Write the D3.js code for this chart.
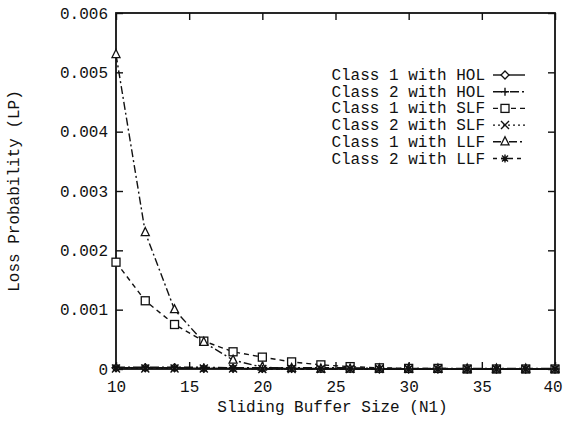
<!DOCTYPE html>
<html><head><meta charset="utf-8">
<script src="https://cdn.jsdelivr.net/npm/d3@7"></script>
<style>body{margin:0;background:#fff}text{font-family:"Liberation Mono","Courier New",monospace;fill:#111}</style>
</head><body><svg id="c" width="563" height="421"></svg>
<script>
const xs = [10,12,14,16,18,20,22,24,26,28,30,32,34,36,38,40];
const class1HOL = [0.00002,0.00002,0.00002,0.00001,0.00001,0.00001,0.00001,0.00001,0.00001,0,0,0,0,0,0,0];
const class2HOL = [0.00003,0.00003,0.00003,0.00003,0.00002,0.00002,0.00002,0.00002,0.00002,0.00001,0.00001,0.00001,0.00001,0.00001,0.00001,0.00001];
const class1SLF = [0.0018,0.00115,0.00075,0.00047,0.00029,0.0002,0.00012,0.00007,0.00004,0.00002,0.00001,0.00001,0,0,0,0];
const class2SLF = [0.00001,0.00001,0.00001,0.00001,0.00001,0,0,0,0,0,0,0,0,0,0,0];
const class1LLF = [0.0053,0.0023,0.001,0.00045,0.00015,0.00003,0.00001,0,0,0,0,0,0,0,0,0];
const class2LLF = [0.00002,0.00002,0.00002,0.00001,0.00001,0,0,0,0,0,0,0,0,0,0,0];
const seriesNames = ["Class 1 with HOL","Class 2 with HOL","Class 1 with SLF","Class 2 with SLF","Class 1 with LLF","Class 2 with LLF"];
const xTicks = [10,15,20,25,30,35,40];
const yTicks = [0,0.001,0.002,0.003,0.004,0.005,0.006];
const yTickLabels = ["0","0.001","0.002","0.003","0.004","0.005","0.006"];

const series = [
 {name:seriesNames[0], v:class1HOL, dash:null, mk:"diamond"},
 {name:seriesNames[1], v:class2HOL, dash:"9,3,2,3", mk:"plus"},
 {name:seriesNames[2], v:class1SLF, dash:"5,4", mk:"square"},
 {name:seriesNames[3], v:class2SLF, dash:"2,3", mk:"x"},
 {name:seriesNames[4], v:class1LLF, dash:"8,3,2,3", mk:"tri"},
 {name:seriesNames[5], v:class2LLF, dash:"4,4", mk:"star"}
];

const svg = d3.select("#c");
const L=116,R=555,T=13,B=369;
const FS=16;
const x = d3.scaleLinear().domain([10,40]).range([L,R]);
const y = d3.scaleLinear().domain([0,0.006]).range([B,T]);

function marker(g, type, cx, cy){
  const s=4;
  if(type==="diamond") g.append("path").attr("d",`M${cx},${cy-s}L${cx+s},${cy}L${cx},${cy+s}L${cx-s},${cy}Z`).attr("fill","#fff").attr("stroke","#111").attr("stroke-width",1.3);
  else if(type==="plus") g.append("path").attr("d",`M${cx-s},${cy}H${cx+s}M${cx},${cy-s}V${cy+s}`).attr("stroke","#111").attr("stroke-width",1.4);
  else if(type==="square") g.append("rect").attr("x",cx-s).attr("y",cy-s).attr("width",2*s).attr("height",2*s).attr("fill","#fff").attr("stroke","#111").attr("stroke-width",1.3);
  else if(type==="x") g.append("path").attr("d",`M${cx-s},${cy-s}L${cx+s},${cy+s}M${cx-s},${cy+s}L${cx+s},${cy-s}`).attr("stroke","#111").attr("stroke-width",1.4);
  else if(type==="tri") g.append("path").attr("d",`M${cx},${cy-s-1}L${cx+s},${cy+s-1}L${cx-s},${cy+s-1}Z`).attr("fill","#fff").attr("stroke","#111").attr("stroke-width",1.3);
  else if(type==="star") g.append("path").attr("d",`M${cx-s},${cy}H${cx+s}M${cx},${cy-s}V${cy+s}M${cx-s*0.75},${cy-s*0.75}L${cx+s*0.75},${cy+s*0.75}M${cx-s*0.75},${cy+s*0.75}L${cx+s*0.75},${cy-s*0.75}`).attr("stroke","#111").attr("stroke-width",1.4);
}

svg.append("rect").attr("x",L).attr("y",T).attr("width",R-L).attr("height",B-T).attr("fill","none").attr("stroke","#111").attr("stroke-width",1.8);

const xa = svg.append("g").attr("transform",`translate(0,${B})`).call(d3.axisBottom(x).tickValues(xTicks).tickSize(-7).tickPadding(12).tickFormat(d3.format("d")));
const xt = svg.append("g").attr("transform",`translate(0,${T})`).call(d3.axisTop(x).tickValues(xTicks).tickSize(-7).tickFormat(""));
const ya = svg.append("g").attr("transform",`translate(${L},0)`).call(d3.axisLeft(y).tickValues(yTicks).tickSize(-7).tickPadding(8).tickFormat((d,i)=>yTickLabels[i]));
const yr = svg.append("g").attr("transform",`translate(${R},0)`).call(d3.axisRight(y).tickValues(yTicks).tickSize(-7).tickFormat(""));
[xa,xt,ya,yr].forEach(g=>{g.select(".domain").remove();g.selectAll("line").attr("stroke","#111").attr("stroke-width",1.4);g.selectAll("text").attr("font-family","Liberation Mono").attr("font-size",FS).attr("fill","#111");});
xa.selectAll(".tick").filter(d=>d===40).select("text").attr("dx",-2.5);

svg.append("text").attr("x",(L+R)/2-3).attr("y",412).attr("text-anchor","middle").attr("font-size",FS).text("Sliding Buffer Size (N1)");
svg.append("text").attr("transform",`translate(19,${(T+B)/2}) rotate(-90)`).attr("text-anchor","middle").attr("font-size",FS).text("Loss Probability (LP)");

const line = d3.line().x((d,i)=>x(xs[i])).y(d=>y(d));
series.forEach(s=>{
  svg.append("path").datum(s.v).attr("d",line).attr("fill","none").attr("stroke","#111").attr("stroke-width",1.4).attr("stroke-dasharray",s.dash);
});
series.forEach(s=>{
  const g=svg.append("g");
  s.v.forEach((v,i)=>marker(g,s.mk,x(xs[i]),y(v)));
});

series.forEach((s,i)=>{
  const ly = 75 + i*16.7;
  svg.append("text").attr("x",485).attr("y",ly+5).attr("text-anchor","end").attr("font-size",FS).text(s.name);
  svg.append("line").attr("x1",493).attr("x2",525).attr("y1",ly).attr("y2",ly).attr("stroke","#111").attr("stroke-width",1.4).attr("stroke-dasharray",s.dash);
  marker(svg,s.mk,505,ly);
});
</script></body></html>
